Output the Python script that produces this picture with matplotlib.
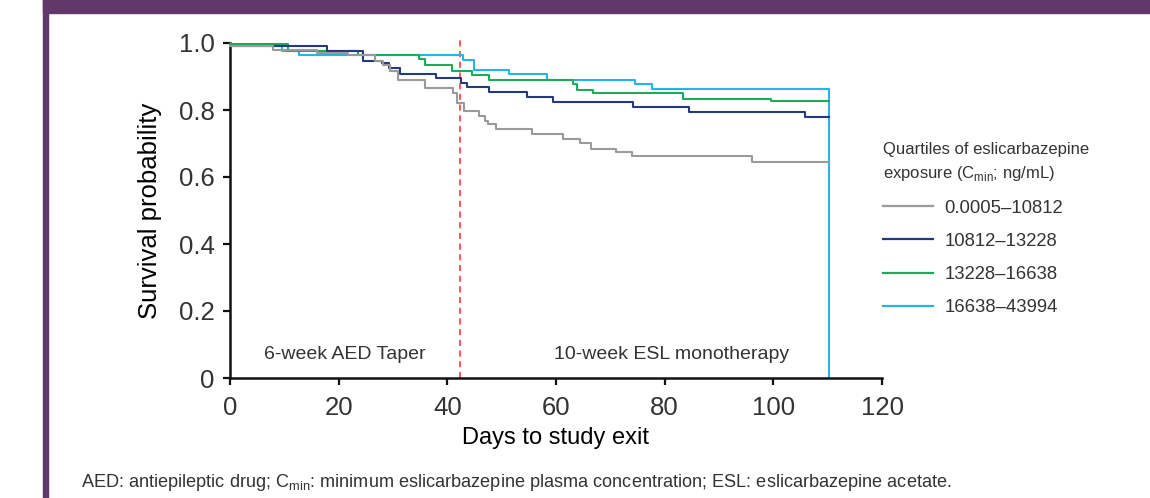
import matplotlib
matplotlib.use("Agg")
import matplotlib.pyplot as plt
from matplotlib.patches import Rectangle

plt.rcParams['font.family'] = ['Liberation Sans', 'DejaVu Sans']
plt.rcParams['mathtext.fontset'] = 'custom'
plt.rcParams['mathtext.rm'] = 'Liberation Sans'
plt.rcParams['text.color'] = '#333333'

# Kaplan-Meier steps per exposure quartile (days, survival probability)
q1_days = [0, 8.0, 16.0, 21.8, 26.6, 28.2, 29.5, 31.0, 35.9, 41.0, 41.8, 43.0, 45.9,
           46.9, 47.5, 48.9, 55.5, 61.2, 64.4, 66.4, 71.0, 74.0, 96.1, 110.3]
q1_surv = [0.990, 0.978, 0.970, 0.963, 0.947, 0.933, 0.915, 0.891, 0.867, 0.851, 0.822,
           0.797, 0.782, 0.768, 0.757, 0.743, 0.727, 0.712, 0.700, 0.685, 0.676, 0.663,
           0.646, 0.646]

q2_days = [0, 17.8, 24.5, 28.0, 29.3, 31.3, 38.0, 42.6, 43.6, 47.7, 54.6, 59.5, 74.1,
           84.4, 105.8, 110.3]
q2_surv = [0.990, 0.976, 0.947, 0.940, 0.924, 0.908, 0.897, 0.882, 0.868, 0.854, 0.840,
           0.824, 0.809, 0.794, 0.779, 0.779]

q3_days = [0, 10.7, 23.5, 34.8, 35.9, 40.8, 44.5, 47.7, 63.1, 63.8, 66.9, 83.3, 99.5, 110.3]
q3_surv = [0.997, 0.977, 0.963, 0.952, 0.933, 0.917, 0.905, 0.890, 0.879, 0.860, 0.852,
           0.834, 0.826, 0.826]

q4_days = [0, 9.5, 12.7, 42.8, 44.9, 51.4, 58.3, 74.5, 77.7, 110.3, 110.3]
q4_surv = [0.990, 0.975, 0.963, 0.949, 0.919, 0.908, 0.891, 0.877, 0.862, 0.862, 0.0]

labels = ['0.0005–10812', '10812–13228', '13228–16638', '16638–43994']
colors = ['#9a9a9a', '#253a7c', '#1fa95a', '#22b4ea']
taper_end = 42.3

fig = plt.figure(figsize=(11.5, 4.98), dpi=100)
purple = '#62386a'
fig.patches.append(Rectangle((43 / 1150, 1 - 13 / 498), 1, 13 / 498,
                             transform=fig.transFigure, color=purple, zorder=0))
fig.patches.append(Rectangle((43 / 1150, 0), 5 / 1150, 1,
                             transform=fig.transFigure, color=purple, zorder=0))

ax = fig.add_axes([230 / 1150, 1 - 378 / 498, 652 / 1150, 335 / 498])

series = [(q1_days, q1_surv), (q2_days, q2_surv), (q3_days, q3_surv), (q4_days, q4_surv)]
zorders = [5, 4, 3, 2]
for (d, s), c, lab, z in zip(series, colors, labels, zorders):
    ax.plot(d, s, drawstyle='steps-post', color=c, lw=1.5, label=lab,
            zorder=z, clip_on=False)

ax.plot([taper_end, taper_end], [0, 1.01], color='#ff2a2a', lw=1.1,
        ls=(0, (4, 3)), clip_on=False, zorder=1)

ax.text(21.2, 0.069, '6-week AED Taper', ha='center', va='center', fontsize=14)
ax.text(81.2, 0.069, '10-week ESL monotherapy', ha='center', va='center', fontsize=14)

ax.set_xlim(0, 120)
ax.set_ylim(0, 1)
ax.set_xticks([0, 20, 40, 60, 80, 100, 120])
ax.set_yticks([0, 0.2, 0.4, 0.6, 0.8, 1.0])
ax.set_yticklabels(['0', '0.2', '0.4', '0.6', '0.8', '1.0'])
ax.tick_params(direction='out', length=5, width=1.6, labelsize=18.5, colors='#111111',
               labelcolor='#333333')
ax.tick_params(axis='x', pad=8)
ax.tick_params(axis='y', pad=6)
for side in ['top', 'right']:
    ax.spines[side].set_visible(False)
for side in ['left', 'bottom']:
    ax.spines[side].set_linewidth(1.8)
    ax.spines[side].set_color('#111111')

ax.set_xlabel('Days to study exit', fontsize=17, va='center')
ax.xaxis.set_label_coords(0.5, -0.179)
ax.set_ylabel('Survival probability', fontsize=18.5, va='center')
ax.yaxis.set_label_coords(-0.123, 0.5)

leg = ax.legend(loc='upper left', bbox_to_anchor=(866 / 1150, 1 - 125 / 498),
                bbox_transform=fig.transFigure, frameon=False, fontsize=13.3,
                title='Quartiles of eslicarbazepine\nexposure (C$_{\\mathregular{min}}$; ng/mL)',
                title_fontsize=12, alignment='left', handlelength=2.7,
                handletextpad=0.65, labelspacing=0.88)
leg.get_title().set_linespacing(1.55)
for line in leg.get_lines():
    line.set_linewidth(1.6)

fig.text(81 / 1150, 1 - 482 / 498,
         'AED: antiepileptic drug; C$_{\\mathregular{min}}$: minimum eslicarbazepine plasma '
         'concentration; ESL: eslicarbazepine acetate.',
         ha='left', va='center', fontsize=13.1)

fig.savefig('out.png', dpi=100)
